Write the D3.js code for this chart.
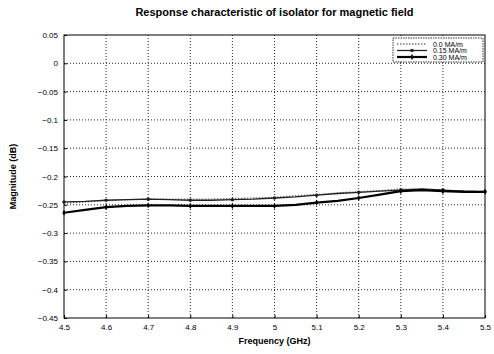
<!DOCTYPE html>
<html>
<head>
<meta charset="utf-8">
<script src="https://cdn.jsdelivr.net/npm/d3@7"></script>
<style>
  body { margin: 0; background: #fff; }
  svg { display: block; font-family: "Liberation Sans", Arial, sans-serif; }
</style>
</head>
<body>
<div id="chart"></div>
<script>
// frequency points (GHz)
const freqs = [4.5, 4.55, 4.6, 4.65, 4.7, 4.75, 4.8, 4.85, 4.9, 4.95, 5.0,
               5.05, 5.1, 5.15, 5.2, 5.25, 5.3, 5.35, 5.4, 5.45, 5.5];
const seriesA = [-0.247, -0.245, -0.242, -0.241, -0.240, -0.240, -0.240, -0.240, -0.239, -0.238, -0.237,
                 -0.234, -0.232, -0.229, -0.227, -0.225, -0.222, -0.223, -0.224, -0.226, -0.226];
const seriesB = [-0.245, -0.244, -0.242, -0.241, -0.240, -0.241, -0.242, -0.242, -0.241, -0.240, -0.238,
                 -0.236, -0.233, -0.230, -0.228, -0.226, -0.224, -0.222, -0.224, -0.226, -0.227];
const seriesC = [-0.264, -0.259, -0.254, -0.252, -0.251, -0.251, -0.252, -0.252, -0.252, -0.252, -0.252,
                 -0.250, -0.246, -0.243, -0.238, -0.232, -0.226, -0.224, -0.226, -0.227, -0.227];
const legendLabels = ["0.0 MA/m", "0.15 MA/m", "0.30 MA/m"];
const xTicks = [4.5, 4.6, 4.7, 4.8, 4.9, 5.0, 5.1, 5.2, 5.3, 5.4, 5.5];
const yTicks = [0.05, 0, -0.05, -0.1, -0.15, -0.2, -0.25, -0.3, -0.35, -0.4, -0.45];

const W = 494, H = 354;
const margin = { top: 35, right: 9, bottom: 36, left: 64 };
const width = W - margin.left - margin.right;
const height = H - margin.top - margin.bottom;

const svg = d3.select("#chart").append("svg")
    .attr("width", W)
    .attr("height", H);

const g = svg.append("g")
    .attr("transform", `translate(${margin.left},${margin.top})`);

const x = d3.scaleLinear().domain([4.5, 5.5]).range([0, width]);
const y = d3.scaleLinear().domain([-0.45, 0.05]).range([height, 0]);

// grid
g.append("g")
    .selectAll("line")
    .data(xTicks.slice(1, -1))
    .enter().append("line")
    .attr("x1", d => x(d)).attr("x2", d => x(d))
    .attr("y1", 0).attr("y2", height)
    .attr("stroke", "#111").attr("stroke-width", 0.9)
    .attr("stroke-dasharray", "1,2");
g.append("g")
    .selectAll("line")
    .data(yTicks.slice(1, -1))
    .enter().append("line")
    .attr("x1", 0).attr("x2", width)
    .attr("y1", d => y(d)).attr("y2", d => y(d))
    .attr("stroke", "#111").attr("stroke-width", 0.9)
    .attr("stroke-dasharray", "1,2");

// axes
const xAxis = d3.axisBottom(x).tickValues(xTicks).tickSize(-3).tickPadding(6)
    .tickFormat(d3.format("~g"));
const yAxis = d3.axisLeft(y).tickValues(yTicks).tickSize(-3).tickPadding(6)
    .tickFormat(d3.format("~g"));

g.append("g").attr("transform", `translate(0,${height})`).call(xAxis)
    .call(a => a.select(".domain").remove())
    .selectAll("text").attr("font-size", 8).attr("fill", "#000");
g.append("g").call(yAxis)
    .call(a => a.select(".domain").remove())
    .selectAll("text").attr("font-size", 8).attr("fill", "#000");

// box
g.append("rect")
    .attr("width", width).attr("height", height)
    .attr("fill", "none").attr("stroke", "#000").attr("stroke-width", 1);

// lines
const line = d3.line().x(d => x(d[0])).y(d => y(d[1]));
const styles = [
    { data: seriesA, color: "#777", w: 1.4, dash: "1.5,1.5", marker: null },
    { data: seriesB, color: "#222", w: 1.3, dash: null, marker: "dot" },
    { data: seriesC, color: "#000", w: 2.2, dash: null, marker: "diamond" }
];

styles.forEach(s => {
    const pts = freqs.map((f, i) => [f, s.data[i]]);
    g.append("path")
        .datum(pts)
        .attr("fill", "none")
        .attr("stroke", s.color)
        .attr("stroke-width", s.w)
        .attr("stroke-dasharray", s.dash)
        .attr("d", line);
    if (s.marker) {
        g.selectAll(null)
            .data(pts.filter((p, i) => i % 2 === 0))
            .enter().append("path")
            .attr("transform", d => `translate(${x(d[0])},${y(d[1])})`)
            .attr("d", d3.symbol().type(s.marker === "dot" ? d3.symbolCircle : d3.symbolDiamond).size(10))
            .attr("fill", s.color);
    }
});

// legend
const lg = g.append("g").attr("transform", `translate(${width - 92},3)`);
lg.append("rect").attr("width", 90).attr("height", 24)
    .attr("fill", "#fff").attr("stroke", "#000").attr("stroke-width", 0.8)
    .attr("stroke-dasharray", "1.5,1");
styles.forEach((s, i) => {
    const yy = 6 + i * 6.5;
    lg.append("line").attr("x1", 4).attr("x2", 34).attr("y1", yy).attr("y2", yy)
        .attr("stroke", s.color).attr("stroke-width", s.w).attr("stroke-dasharray", s.dash);
    if (s.marker) {
        lg.append("path").attr("transform", `translate(19,${yy})`)
            .attr("d", d3.symbol().type(s.marker === "dot" ? d3.symbolCircle : d3.symbolDiamond).size(10))
            .attr("fill", s.color);
    }
    lg.append("text").attr("x", 40).attr("y", yy + 2.5)
        .attr("font-size", 7).text(legendLabels[i]);
});

// title and labels
svg.append("text").attr("x", margin.left + width / 2).attr("y", 16)
    .attr("text-anchor", "middle").attr("font-size", 11).attr("font-weight", "bold")
    .attr("font-family", "'Liberation Sans Narrow', 'Liberation Sans', Arial, sans-serif")
    .text("Response characteristic of isolator for magnetic field");
svg.append("text").attr("x", margin.left + width / 2).attr("y", 344)
    .attr("text-anchor", "middle").attr("font-size", 9).attr("font-weight", "bold")
    .attr("font-family", "'Liberation Sans Narrow', 'Liberation Sans', Arial, sans-serif")
    .text("Frequency (GHz)");
svg.append("text")
    .attr("transform", `translate(16,${margin.top + height / 2}) rotate(-90)`)
    .attr("text-anchor", "middle").attr("font-size", 9).attr("font-weight", "bold")
    .attr("font-family", "'Liberation Sans Narrow', 'Liberation Sans', Arial, sans-serif")
    .text("Magnitude (dB)");
</script>
</body>
</html>
